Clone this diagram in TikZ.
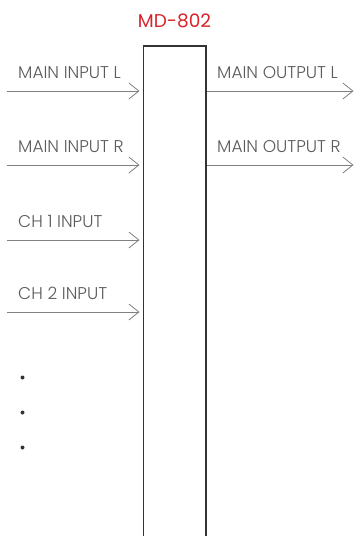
\documentclass[tikz,border=0pt]{standalone}
\usepackage{fontspec}
\setmainfont{Poppins Light}
\newfontfamily\titlefont{Poppins}
\usetikzlibrary{arrows.meta}
\definecolor{mdred}{HTML}{D8232A}
\definecolor{sig}{HTML}{808080}
\definecolor{boxc}{HTML}{333333}
\definecolor{lab}{HTML}{5A5A5A}
\tikzset{
  sigline/.style={draw=sig, line width=0.8pt, -{Straight Barb[length=10pt,width=16pt,line width=0.8pt]}},
  lbl/.style={anchor=base west, inner sep=0pt, text=lab, font=\fontsize{17}{19}\selectfont},
  dotmark/.style={circle, fill=boxc, inner sep=0pt, minimum size=4pt},
}
\begin{document}
\begin{tikzpicture}[x=1pt,y=-1pt]
\useasboundingbox (0,0) rectangle (354,536);
% device box
\coordinate (tl) at (143.5,46);
\coordinate (tr) at (206,46);
\coordinate (bl) at (143.5,537);
\coordinate (br) at (206,537);
\draw[boxc, line width=1.5pt] (bl) -- (tl) -- (tr) -- (br);
\node[text=mdred, font=\titlefont\fontsize{18.5}{20}\selectfont, inner sep=0pt, anchor=base] (title) at (174.5,27) {MD-802};
% inputs
\foreach \n/\y/\t in {inl/91/MAIN INPUT L, inr/165/MAIN INPUT R, ch1/240/CH 1 INPUT, ch2/312/CH 2 INPUT}{
  \coordinate (\n s) at (6.5,\y);
  \coordinate (\n e) at (139.5,\y);
  \draw[sigline] (\n s) -- (\n e);
  \node[lbl] (\n lab) at (18,\y-12.5) {\t};
}
% outputs
\foreach \n/\y/\t in {outl/91/MAIN OUTPUT L, outr/165/MAIN OUTPUT R}{
  \coordinate (\n s) at (207,\y);
  \coordinate (\n e) at (353.5,\y);
  \draw[sigline] (\n s) -- (\n e);
  \node[lbl] (\n lab) at (217,\y-12.5) {\t};
}
% continuation dots
\node[dotmark] (d1) at (22.5,377.5) {};
\node[dotmark] (d2) at (22.5,412.5) {};
\node[dotmark] (d3) at (22.5,447.5) {};
\end{tikzpicture}
\end{document}
